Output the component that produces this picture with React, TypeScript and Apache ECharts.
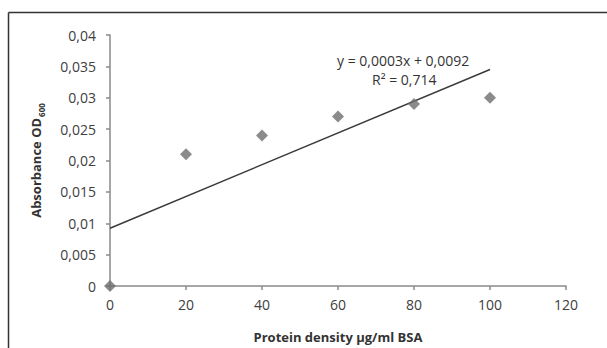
import React, { useEffect, useRef } from "react";
import * as echarts from "echarts";

const proteinDensity = [0, 20, 40, 60, 80, 100];
const absorbance = [0, 0.021, 0.024, 0.027, 0.029, 0.03];
const trendX = [0, 100];
const trendY = [0.0092, 0.0345];
const equationText = "y = 0,0003x + 0,0092";
const r2Text = "R² = 0,714";
const xTitle = "Protein density µg/ml BSA";

const fmt = (v: number) => String(v).replace(".", ",");

export default function App() {
  const ref = useRef<HTMLDivElement>(null);
  useEffect(() => {
    if (!ref.current) return;
    const chart = echarts.init(ref.current, null, { renderer: "svg" });
    const font = "'Open Sans', 'Liberation Sans', sans-serif";
    chart.setOption({
      animation: false,
      backgroundColor: "#ffffff",
      textStyle: { fontFamily: font },
      grid: { left: 110, right: 41, top: 35, bottom: 56, containLabel: false },
      xAxis: {
        type: "value",
        min: 0,
        max: 120,
        interval: 20,
        splitLine: { show: false },
        axisLine: { show: true, lineStyle: { color: "#8a8a8a", width: 1.5 } },
        axisTick: { show: true, inside: false, length: 4, lineStyle: { color: "#8a8a8a", width: 1.5 } },
        axisLabel: { color: "#404040", fontSize: 14, margin: 11, fontFamily: font, formatter: fmt },
        name: xTitle,
        nameLocation: "middle",
        nameGap: 44,
        nameTextStyle: { color: "#333333", fontSize: 13, fontWeight: "bold", fontFamily: font },
      },
      yAxis: {
        type: "value",
        min: 0,
        max: 0.04,
        interval: 0.005,
        splitLine: { show: false },
        axisLine: { show: true, lineStyle: { color: "#8a8a8a", width: 1.5 } },
        axisTick: { show: true, inside: false, length: 4, lineStyle: { color: "#8a8a8a", width: 1.5 } },
        axisLabel: { color: "#404040", fontSize: 14, margin: 14, fontFamily: font, formatter: fmt },
        name: "{a|Absorbance OD}{s|600}",
        nameLocation: "middle",
        nameGap: 65,
        nameTextStyle: {
          rich: {
            a: { color: "#333333", fontSize: 13, fontWeight: "bold", fontFamily: font, lineHeight: 18, verticalAlign: "middle" },
            s: { color: "#333333", fontSize: 8, fontWeight: "bold", fontFamily: font, lineHeight: 18, verticalAlign: "bottom", padding: [0, 0, 0, 1] },
          },
        },
      },
      graphic: [
        { type: "line", shape: { x1: 8.5, y1: 12.5, x2: 607, y2: 12.5 }, style: { stroke: "#333", lineWidth: 1.5 } },
        { type: "line", shape: { x1: 8.5, y1: 12.5, x2: 8.5, y2: 348 }, style: { stroke: "#333", lineWidth: 1.5 } },
        {
          type: "text",
          left: 337,
          top: 53,
          style: { text: equationText, fill: "#333333", font: `14px ${font}` },
        },
        {
          type: "text",
          left: 372,
          top: 72,
          style: { text: r2Text, fill: "#333333", font: `14px ${font}` },
        },
      ],
      series: [
        {
          type: "line",
          data: trendX.map((x, i) => [x, trendY[i]]),
          symbol: "none",
          lineStyle: { color: "#3a3a3a", width: 1.4 },
          z: 2,
        },
        {
          type: "scatter",
          data: proteinDensity.map((x, i) => [x, absorbance[i]]),
          symbol: "diamond",
          symbolSize: 12,
          clip: false,
          itemStyle: { color: "#6e6e6e" },
          z: 3,
        },
      ],
    });
    return () => chart.dispose();
  }, []);
  return <div ref={ref} style={{ position: "absolute", left: 0, top: 0, width: 607, height: 348 }} />;
}
